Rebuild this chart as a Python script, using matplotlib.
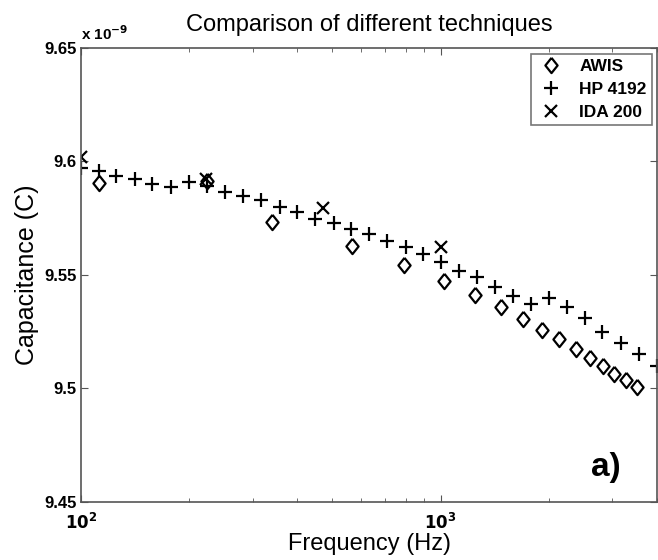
import matplotlib.pyplot as plt
from matplotlib.ticker import FixedLocator, FixedFormatter, LogLocator, NullFormatter

plt.rcParams['font.family'] = ['Liberation Sans', 'DejaVu Sans']

# capacitance in units of 1e-9 F
awis_f = [112, 224, 340, 566, 790, 1021, 1244, 1476, 1696, 1915, 2141, 2377,
          2605, 2832, 3046, 3276, 3508]
awis_c = [9.5904, 9.5912, 9.5735, 9.5629, 9.5544, 9.5474, 9.5412, 9.5360,
          9.5305, 9.5258, 9.5217, 9.5174, 9.5133, 9.5099, 9.5064, 9.5037, 9.5008]

hp_f = [100, 112, 125, 141, 158, 178, 200, 224, 252, 283, 317, 357, 399, 447,
        505, 564, 633, 710, 799, 895, 1004, 1125, 1260, 1414, 1590, 1784, 2003,
        2248, 2518, 2821, 3172, 3554, 3998]
hp_c = [9.5970, 9.5959, 9.5937, 9.5922, 9.5900, 9.5889, 9.5910, 9.5892, 9.5867,
        9.5848, 9.5830, 9.5801, 9.5779, 9.5747, 9.5730, 9.5701, 9.5681, 9.5651,
        9.5622, 9.5591, 9.5559, 9.5519, 9.5490, 9.5449, 9.5409, 9.5372, 9.5400,
        9.5360, 9.5309, 9.5250, 9.5199, 9.5151, 9.5100]

ida_f = [100, 222, 471, 1004]
ida_c = [9.6021, 9.5922, 9.5794, 9.5625]

y_ticks = [9.45, 9.5, 9.55, 9.6, 9.65]
y_tick_labels = ['9.45', '9.5', '9.55', '9.6', '9.65']

# wider diamond than the built-in 'd'
diamond = [(0, 1), (0.8, 0), (0, -1), (-0.8, 0), (0, 1)]

fig = plt.figure(figsize=(6.58, 5.6), dpi=100)
ax = fig.add_axes([0.1231, 0.1036, 0.8754, 0.8107])

ax.plot(awis_f, awis_c, linestyle='none', marker=diamond, markersize=11,
        markerfacecolor='none', markeredgecolor='black', markeredgewidth=1.6,
        label='AWIS')
ax.plot(hp_f, hp_c, linestyle='none', marker='+', markersize=10,
        color='black', markeredgewidth=1.6, label='HP 4192')
ax.plot(ida_f, ida_c, linestyle='none', marker='x', markersize=8,
        color='black', markeredgewidth=1.6, label='IDA 200')

ax.set_xscale('log')
ax.set_xlim(100, 4000)
ax.set_ylim(9.45, 9.65)

ax.xaxis.set_major_locator(FixedLocator([100, 1000]))
ax.xaxis.set_major_formatter(FixedFormatter([r'$\mathbf{10^{2}}$', r'$\mathbf{10^{3}}$']))
ax.xaxis.set_minor_locator(LogLocator(base=10, subs=range(2, 10)))
ax.xaxis.set_minor_formatter(NullFormatter())
ax.yaxis.set_major_locator(FixedLocator(y_ticks))
ax.yaxis.set_major_formatter(FixedFormatter(y_tick_labels))

ax.tick_params(which='both', direction='in', top=True, right=True,
               color='#555555', labelsize=12, pad=3)
ax.tick_params(axis='x', which='major', pad=7)
ax.tick_params(which='major', length=5)
ax.tick_params(which='minor', length=3)
for lab in ax.get_yticklabels():
    lab.set_fontweight('bold')
for spine in ax.spines.values():
    spine.set_color('#555555')
    spine.set_linewidth(1.2)

ax.text(0.0, 1.01, r'x 10$^{\mathbf{-9}}$', transform=ax.transAxes,
        fontsize=11, fontweight='bold', ha='left', va='bottom')
ax.text(0.911, 0.075, 'a)', transform=ax.transAxes, fontsize=24,
        fontweight='bold', ha='center', va='center')

ax.set_title('Comparison of different techniques', fontsize=17, pad=12)
ax.set_xlabel('Frequency (Hz)', fontsize=17, labelpad=1)
ax.set_ylabel('Capacitance (C)', fontsize=18, labelpad=4)

leg = ax.legend(loc='upper right', prop={'weight': 'bold', 'size': 12.5},
                frameon=True, fancybox=False, edgecolor='#555555',
                handletextpad=0.7, borderpad=0.3, labelspacing=0.45,
                handlelength=1.8, borderaxespad=0,
                bbox_to_anchor=(0.991, 0.987))
leg.get_frame().set_linewidth(1.2)

fig.savefig('out.png', dpi=100)
